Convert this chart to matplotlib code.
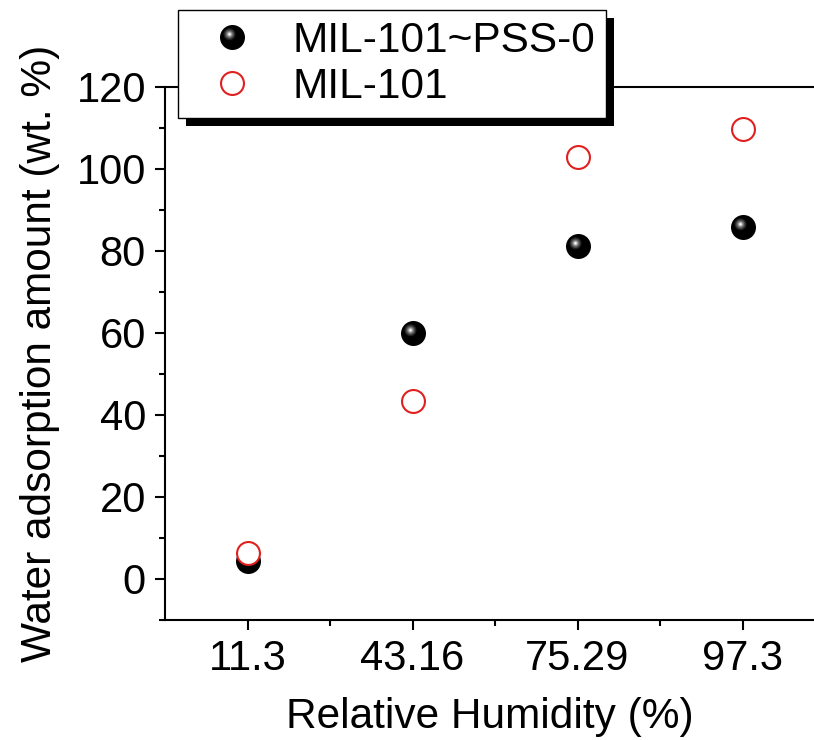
import numpy as np
import matplotlib
matplotlib.use('Agg')
import matplotlib.pyplot as plt
from matplotlib.path import Path
from matplotlib.patches import Rectangle
from matplotlib.transforms import IdentityTransform
from matplotlib.legend_handler import HandlerTuple
from matplotlib.ticker import FixedLocator, MultipleLocator

# dados
humidity = ['11.3', '43.16', '75.29', '97.3']
pss0 = [4.4, 60.0, 81.3, 85.9]      # MIL-101~PSS-0
mil101 = [6.4, 43.3, 103.0, 109.7]  # MIL-101

plt.rcParams['font.family'] = ['Liberation Sans', 'DejaVu Sans']

fig = plt.figure(figsize=(8.14, 7.40), dpi=100)
ax = fig.add_axes([165 / 814, 120 / 740, 1 - 165 / 814, (620 - 87) / 740])
ax.patch.set_visible(False)

x = np.arange(len(humidity))

# esfera preta com brilho (camadas de marcadores deslocados)
def spot(r, cx=-0.12, cy=0.13):
    c = Path.circle((cx, cy), r)
    dummy = Path([(0.5, 0.5), (-0.5, -0.5)], [Path.MOVETO, Path.MOVETO])
    return Path.make_compound_path(c, dummy)

ms = 18
ball, = ax.plot(x, pss0, 'o', color='black', ms=ms, mew=0, zorder=3)
layers = [(0.24, '#222222'), (0.19, '#484848'), (0.14, '#767676'),
          (0.095, '#a8a8a8'), (0.06, '#d8d8d8'), (0.03, '#ffffff')]
shine = []
for r, c in layers:
    h, = ax.plot(x, pss0, linestyle='none', marker=spot(r), color=c,
                 ms=ms, mew=0, zorder=3)
    shine.append(h)

ring, = ax.plot(x, mil101, 'o', mfc='white', mec='#e0201e', ms=16.5,
                mew=1.5, zorder=4)

ax.set_xlim(-0.5, -0.5 + 649 / 165)
ax.set_ylim(-10, 120)
ax.set_xticks(x)
ax.set_xticklabels(humidity)
ax.xaxis.set_minor_locator(FixedLocator(x[:-1] + 0.5))
ax.yaxis.set_major_locator(MultipleLocator(20))
ax.yaxis.set_minor_locator(MultipleLocator(10))
ax.set_yticks(np.arange(0, 121, 20))

for s in ['left', 'bottom', 'top']:
    ax.spines[s].set_linewidth(1.5)
ax.spines['right'].set_visible(False)
ax.tick_params(which='both', direction='out', width=1.5, labelsize=30,
               top=False, right=False)
ax.tick_params(which='major', length=7.2, pad=6.5)
ax.tick_params(which='minor', length=4)

ax.set_xlabel('Relative Humidity (%)', fontsize=30.5, labelpad=13)
ax.set_ylabel('Water adsorption amount (wt. %)', fontsize=30.5, labelpad=12)

leg = ax.legend([tuple([ball] + shine), ring], ['MIL-101~PSS-0', 'MIL-101'],
                handler_map={tuple: HandlerTuple(ndivide=1)},
                loc='upper left', bbox_to_anchor=(178 / 814, 1 - 10 / 740),
                bbox_transform=fig.transFigure, borderaxespad=0,
                fontsize=30.5, frameon=True, fancybox=False, numpoints=1,
                framealpha=1, facecolor='white', edgecolor='black',
                handlelength=2.05, handletextpad=0.4, borderpad=0.25,
                labelspacing=0.15)
leg.get_frame().set_linewidth(1.0)
leg.set_zorder(10)

# sombra da legenda
fig.canvas.draw()
bb = leg.get_frame().get_window_extent()
sh = Rectangle((bb.x0 + 8, bb.y0 - 8), bb.width, bb.height, facecolor='black',
               edgecolor='none', zorder=9)
ax.add_artist(sh)
sh.set_transform(IdentityTransform())
sh.set_clip_on(False)

fig.savefig('out.png', dpi=100)
